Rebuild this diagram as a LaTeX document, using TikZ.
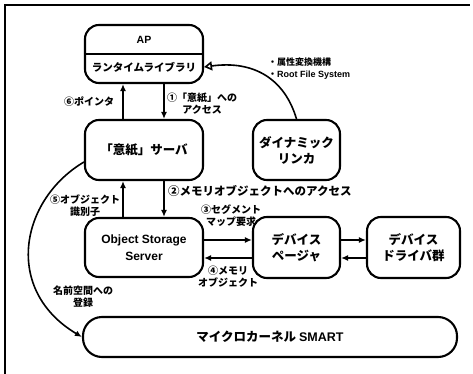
\documentclass[tikz,border=0pt]{standalone}
\usepackage{fontspec}
\usetikzlibrary{arrows.meta}
\setmainfont{Liberation Sans}
\newfontfamily\jp{Noto Sans CJK JP}
\newcommand\latn[1]{{\rmfamily\bfseries #1}}
\tikzset{
  box/.style={draw, line width=2.1pt, rounded corners=14pt, inner sep=0pt, align=center,
    font=\jp\bfseries\fontsize{12.5}{16}\selectfont},
  lbl/.style={font=\jp\bfseries\fontsize{10}{12}\selectfont, align=center, inner sep=0pt},
  arr/.style={line width=1.6pt, -{Latex[length=7pt,width=6pt]}},
}
\begin{document}
\begin{tikzpicture}[x=1pt,y=-1pt]
\useasboundingbox (0,0) rectangle (473,374);
\draw[line width=1.5pt] (5,374) -- (5,5) -- (470,5);
% boxes
\node[box, minimum width=118pt, minimum height=58pt] (ap) at (144,54) {};
\draw[line width=1.4pt] (ap.west) -- (ap.east);
\node[lbl, font=\bfseries\fontsize{10.5}{12}\selectfont] (apt) at (144,40) {AP};
\node[lbl, font=\jp\bfseries\fontsize{10.5}{12}\selectfont] (apl) at (144,67) {ランタイムライブラリ};
\node[box, minimum width=118pt, minimum height=60pt] (srv) at (144,150) {「意紙」サーバ};
\node[box, minimum width=118pt, minimum height=59pt, font=\bfseries\fontsize{12}{17}\selectfont] (oss) at (144,247.5) {Object Storage\\Server};
\node[box, minimum width=87pt, minimum height=60pt] (dl) at (296.5,150) {ダイナミック\\リンカ};
\node[box, minimum width=87pt, minimum height=61pt] (pager) at (296.5,247.5) {デバイス\\ページャ};
\node[box, minimum width=93pt, minimum height=61pt] (drv) at (413.5,247.5) {デバイス\\ドライバ群};
\node[box, minimum width=374pt, minimum height=40pt, rounded corners=19pt] (smart) at (270,337) {マイクロカーネル \latn{SMART}};
% vertical arrows
\draw[arr] ([xshift=-21pt]srv.north) -- ([xshift=-21pt]ap.south);
\draw[arr] ([xshift=20pt]ap.south) -- ([xshift=20pt]srv.north);
\draw[arr] ([xshift=-21pt]oss.north) -- ([xshift=-21pt]srv.south);
\draw[arr] ([xshift=20pt]srv.south) -- ([xshift=20pt]oss.north);
% horizontal arrows
\draw[arr] ([yshift=7.5pt]oss.east) -- ([yshift=7.5pt]pager.west);
\draw[arr] ([yshift=-10.5pt]pager.west) -- ([yshift=-10.5pt]oss.east);
\draw[arr] ([yshift=7.5pt]pager.east) -- ([yshift=7.5pt]drv.west);
\draw[arr] ([yshift=-10.5pt]drv.west) -- ([yshift=-10.5pt]pager.east);
% curves
\draw[line width=1.6pt, -{Triangle[open,length=8pt,width=9pt]}] (dl.north) .. controls (285,80) and (255,60) .. ([yshift=-13pt]ap.east);
\draw[arr] ([yshift=-12pt]srv.west) .. controls (20,200) and (3,290) .. (smart.west);
% labels
\node[lbl] (l1) at (202,104) {①「意紙」への\\アクセス};
\node[lbl] (l6) at (89,102) {⑥ポインタ};
\node[lbl, anchor=west, font=\jp\bfseries\fontsize{11.5}{12}\selectfont] (l2) at (168,191) {②メモリオブジェクトへのアクセス};
\node[lbl] (l5) at (85,206) {⑤オブジェクト\\識別子};
\node[lbl] (l3) at (231,216) {③セグメント\\マップ要求};
\node[lbl] (l4) at (228,277) {④メモリ\\オブジェクト};
\node[lbl] (l7) at (83,297) {名前空間への\\登録};
\node[lbl, anchor=west, align=left, font=\jp\bfseries\fontsize{9}{12}\selectfont] (l8) at (268,69) {・属性変換機構\\・\latn{Root File System}};
\end{tikzpicture}
\end{document}
